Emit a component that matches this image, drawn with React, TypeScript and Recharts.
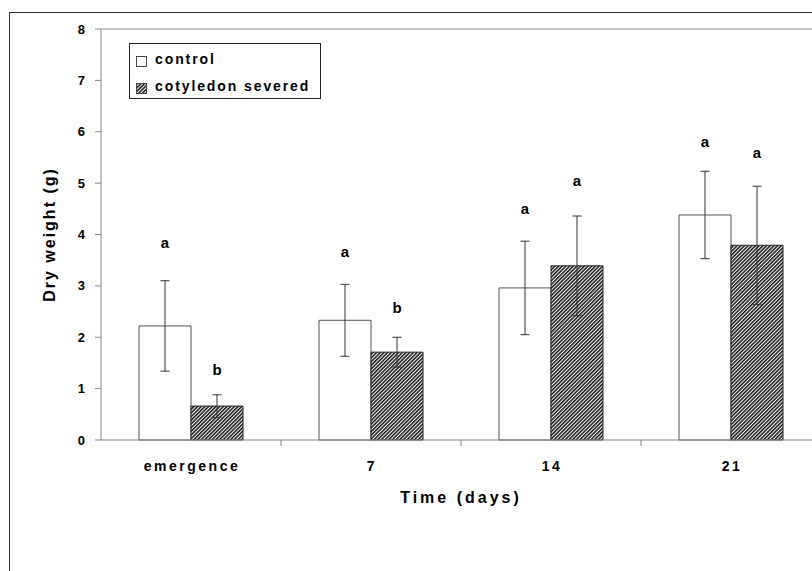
import React from 'react';
import { Bar, BarChart, ErrorBar, LabelList, Legend, ReferenceLine, XAxis, YAxis } from 'recharts';

const days = ['emergence', '7', '14', '21'];
const controlWeight = [2.22, 2.33, 2.96, 4.38];
const controlError = [0.88, 0.7, 0.91, 0.85];
const severedWeight = [0.66, 1.71, 3.39, 3.79];
const severedError = [0.22, 0.29, 0.97, 1.15];
const controlLetters = ['a', 'a', 'a', 'a'];
const severedLetters = ['b', 'b', 'a', 'a'];
const controlLetterAt = [3.83, 3.65, 4.5, 5.8];
const severedLetterAt = [1.36, 2.56, 5.04, 5.58];
const yTicks = [0, 1, 2, 3, 4, 5, 6, 7, 8];

const chartData = days.map((day, i) => ({
  day,
  control: controlWeight[i],
  controlErr: controlError[i],
  controlLetter: controlLetters[i],
  severed: severedWeight[i],
  severedErr: severedError[i],
  severedLetter: severedLetters[i],
}));

const FONT = '"Liberation Sans", Arial, sans-serif';
const AXIS = '#888';
const HALF_BAND = 90;

const CategoryTick = (props: any) => {
  const { x, y, payload } = props;
  return (
    <g>
      <line x1={x + HALF_BAND} y1={y} x2={x + HALF_BAND} y2={y + 6} stroke={AXIS} />
      <text
        x={x + 1}
        y={y + 31}
        textAnchor="middle"
        fontFamily={FONT}
        fontWeight="bold"
        fontSize={14}
        letterSpacing={2.5}
        fill="#000"
      >
        {payload.value}
      </text>
    </g>
  );
};

// places the significance letter at a value on the bar's own scale
const letterRenderer = (values: number[], heights: number[]) => (props: any) => {
  const box = props.viewBox && props.viewBox.height !== undefined ? props.viewBox : props;
  const { x, y, width, height } = box;
  const i = props.index;
  const base = y + height;
  const py = base - (height / values[i]) * heights[i];
  return (
    <text
      x={x + width / 2}
      y={py + 5}
      textAnchor="middle"
      fontFamily={FONT}
      fontWeight="bold"
      fontSize={15}
      fill="#000"
    >
      {props.value}
    </text>
  );
};

const Hatch = ({ id }: { id: string }) => (
  <pattern id={id} width="2.6" height="2.6" patternUnits="userSpaceOnUse" patternTransform="rotate(45)">
    <rect width="2.6" height="2.6" fill="#fff" />
    <rect width="1.5" height="2.6" fill="#111" />
  </pattern>
);

const LegendBox = (props: any) => {
  const payload = props.payload ?? [];
  return (
    <svg width={192} height={56} style={{ display: 'block' }}>
      <defs>
        <Hatch id="hatchLegend" />
      </defs>
      <rect x={0.5} y={0.5} width={191} height={55} fill="#fff" stroke="#222" />
      {payload.map((entry: any, i: number) => (
        <g key={entry.value}>
          <rect
            x={7.5}
            y={13.5 + 27 * i}
            width={10}
            height={10}
            fill={entry.dataKey === 'severed' ? 'url(#hatchLegend)' : '#fff'}
            stroke="#444"
          />
          <text
            x={26}
            y={21 + 27 * i}
            fontFamily={FONT}
            fontWeight="bold"
            fontSize={14}
            letterSpacing={1.9}
            fill="#000"
          >
            {entry.value}
          </text>
        </g>
      ))}
    </svg>
  );
};

export default function App() {
  return (
    <div
      style={{
        position: 'fixed',
        left: 0,
        top: 0,
        width: 812,
        height: 571,
        overflow: 'hidden',
        background: '#fff',
      }}
    >
      <div
        style={{
          position: 'absolute',
          left: 9,
          top: 12,
          width: 1000,
          height: 1000,
          border: '1px solid #333',
        }}
      />
      <div style={{ position: 'absolute', left: 0, top: 0 }}>
        <BarChart
          width={840}
          height={571}
          data={chartData}
          margin={{ top: 29, right: 19, bottom: 71, left: 0 }}
          barGap={0}
          barSize={52}
        >
          <defs>
            <Hatch id="hatch" />
          </defs>
          <XAxis
            dataKey="day"
            height={60}
            interval={0}
            tickLine={false}
            tickSize={0}
            tickMargin={0}
            axisLine={{ stroke: AXIS }}
            tick={<CategoryTick />}
            label={{
              content: (p: any) => {
                const vb = p.viewBox;
                return (
                  <text
                    x={vb.x + vb.width / 2}
                    y={503}
                    textAnchor="middle"
                    fontFamily={FONT}
                    fontWeight="bold"
                    fontSize={16}
                    letterSpacing={3}
                    fill="#000"
                  >
                    Time (days)
                  </text>
                );
              },
            }}
          />
          <YAxis
            type="number"
            domain={[0, 8]}
            ticks={yTicks}
            width={101}
            tickSize={6}
            tickMargin={10}
            axisLine={{ stroke: AXIS }}
            tickLine={{ stroke: AXIS }}
            tick={{ fontFamily: FONT, fontWeight: 'bold', fontSize: 13, fill: '#000' }}
            label={{
              content: (p: any) => {
                const vb = p.viewBox;
                const cy = vb.y + vb.height / 2;
                return (
                  <text
                    x={55}
                    y={cy}
                    transform={`rotate(-90 55 ${cy})`}
                    textAnchor="middle"
                    fontFamily={FONT}
                    fontWeight="bold"
                    fontSize={16}
                    letterSpacing={2}
                    fill="#000"
                  >
                    Dry weight (g)
                  </text>
                );
              },
            }}
          />
          <ReferenceLine y={8} stroke={AXIS} />
          <Legend
            layout="vertical"
            verticalAlign="middle"
            align="center"
            content={<LegendBox />}
            wrapperStyle={{ position: 'absolute', left: 129, top: 43, width: 192, height: 56 }}
          />
          <Bar dataKey="control" name="control" fill="#fff" stroke="#555" isAnimationActive={false}>
            <ErrorBar dataKey="controlErr" width={4.5} stroke="#333" strokeWidth={1} />
            <LabelList dataKey="controlLetter" content={letterRenderer(controlWeight, controlLetterAt)} />
          </Bar>
          <Bar dataKey="severed" name="cotyledon severed" fill="url(#hatch)" stroke="#222" isAnimationActive={false}>
            <ErrorBar dataKey="severedErr" width={4.5} stroke="#333" strokeWidth={1} />
            <LabelList dataKey="severedLetter" content={letterRenderer(severedWeight, severedLetterAt)} />
          </Bar>
        </BarChart>
      </div>
    </div>
  );
}
